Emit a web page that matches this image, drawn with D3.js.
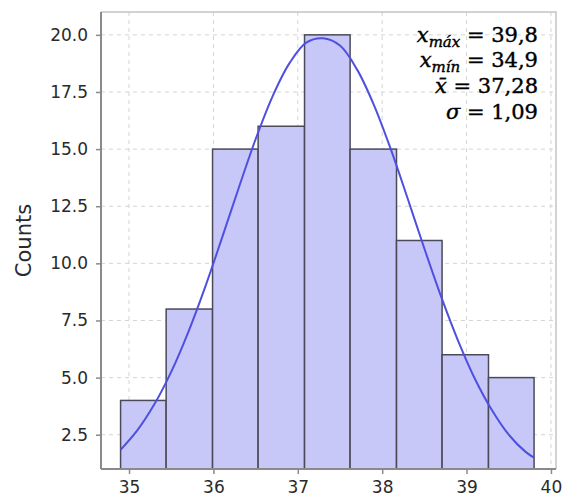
<!DOCTYPE html>
<html>
<head>
<meta charset="utf-8">
<script src="https://cdn.jsdelivr.net/npm/d3@7"></script>
<style>
body{margin:0;background:#fff;}
svg{display:block;}
</style>
</head>
<body>
<svg id="chart" width="562" height="499"></svg>
<script>
var svg = d3.select('#chart');

var binEdges = [34.9, 35.44, 35.99, 36.53, 37.08, 37.62, 38.17, 38.71, 39.26, 39.8];
var counts   = [4, 8, 15, 16, 20, 15, 11, 6, 5];

var curveX = [34.9, 35.1, 35.3, 35.5, 35.7, 35.9, 36.1, 36.3, 36.5, 36.7, 36.9, 37.1, 37.3,
              37.5, 37.7, 37.9, 38.1, 38.3, 38.5, 38.7, 38.9, 39.1, 39.3, 39.5, 39.7, 39.8];
var curveY = [1.84, 2.70, 3.83, 5.25, 6.97, 8.94, 11.09, 13.30, 15.43, 17.30, 18.75, 19.66, 19.85,
              19.53, 18.50, 16.95, 15.02, 12.86, 10.65, 8.53, 6.61, 4.94, 3.58, 2.50, 1.75, 1.50];

var xTicks = [35, 36, 37, 38, 39, 40];
var yTicks = [2.5, 5.0, 7.5, 10.0, 12.5, 15.0, 17.5, 20.0];

var statNames  = ["máx", "mín", "mean", "sigma"];
var statValues = ["39,8", "34,9", "37,28", "1,09"];

var L = 101, R = 556, T = 12, B = 469;
var x = d3.scaleLinear().domain([34.668, 40.06]).range([L, R]);
var y = d3.scaleLinear().domain([1.0, 21.0]).range([B, T]);

// grid
svg.append('g').selectAll('line')
	.data(xTicks)
	.enter()
	.append('line')
	.attr('x1', function(d){return x(d);})
	.attr('x2', function(d){return x(d);})
	.attr('y1', T).attr('y2', B)
	.attr('stroke', '#d4d4d4')
	.attr('stroke-dasharray', '4,4');
svg.append('g').selectAll('line')
	.data(yTicks)
	.enter()
	.append('line')
	.attr('x1', L).attr('x2', R)
	.attr('y1', function(d){return y(d);})
	.attr('y2', function(d){return y(d);})
	.attr('stroke', '#d4d4d4')
	.attr('stroke-dasharray', '4,4');

// frame top/right
svg.append('path')
	.attr('d', 'M' + L + ',' + T + 'H' + R + 'V' + B)
	.attr('fill', 'none')
	.attr('stroke', '#c4c4c4')
	.attr('stroke-width', 1.5);

// bars
svg.append('g').selectAll('rect')
	.data(counts)
	.enter()
	.append('rect')
	.attr('x', function(d, i){return x(binEdges[i]);})
	.attr('width', function(d, i){return x(binEdges[i + 1]) - x(binEdges[i]);})
	.attr('y', function(d){return y(d);})
	.attr('height', function(d){return B - y(d);})
	.attr('fill', '#c8c8f8')
	.attr('stroke', '#4a4a58')
	.attr('stroke-width', 1.5);

// fitted curve
var line = d3.line()
	.x(function(d, i){return x(curveX[i]);})
	.y(function(d){return y(d);})
	.curve(d3.curveCatmullRom);
svg.append('path')
	.datum(curveY)
	.attr('d', line)
	.attr('fill', 'none')
	.attr('stroke', '#4f4fe0')
	.attr('stroke-width', 2);

// axes
var xAxis = svg.append('g')
	.attr('transform', 'translate(0,' + B + ')')
	.call(d3.axisBottom(x).tickValues(xTicks).tickSize(5).tickPadding(7).tickFormat(d3.format('d')));
var yAxis = svg.append('g')
	.attr('transform', 'translate(' + L + ',0)')
	.call(d3.axisLeft(y).tickValues(yTicks).tickSize(5).tickPadding(8).tickFormat(d3.format('.1f')));
[xAxis, yAxis].forEach(function(g){
	g.select('.domain').attr('stroke', '#8a8a8a').attr('stroke-width', 2);
	g.selectAll('.tick line').attr('stroke', '#8a8a8a').attr('stroke-width', 1.5);
	g.selectAll('.tick text')
		.attr('fill', '#2a2a2a')
		.style('font-family', 'DejaVu Sans')
		.style('font-size', '17px');
});
yAxis.select('.domain').attr('d', 'M0,' + T + 'V' + B);
xAxis.select('.domain').attr('d', 'M' + L + ',0H' + R);

svg.append('text')
	.attr('transform', 'translate(31,' + ((T + B) / 2) + ') rotate(-90)')
	.attr('text-anchor', 'middle')
	.attr('fill', '#2a2a2a')
	.style('font-family', 'DejaVu Sans')
	.style('font-size', '21px')
	.text('Counts');

// stats box
var stats = svg.append('g')
	.attr('text-anchor', 'end')
	.style('font-family', 'DejaVu Serif')
	.style('font-size', '21px')
	.attr('fill', '#000')
	.attr('stroke', '#000')
	.attr('stroke-width', 0.4);
var baselines = [42, 67, 93, 119];
statValues.forEach(function(v, i){
	var t = stats.append('text').attr('x', 538).attr('y', baselines[i]);
	if (i < 2) {
		t.append('tspan').style('font-style', 'italic').text('x');
		t.append('tspan').attr('dy', 5).style('font-style', 'italic').style('font-size', '15px').text(statNames[i]);
		t.append('tspan').attr('dy', -5).text(' = ' + v);
	} else if (i == 2) {
		t.append('tspan').style('font-style', 'italic').text('x̄');
		t.append('tspan').text(' = ' + v);
	} else {
		t.append('tspan').style('font-style', 'italic').text('σ');
		t.append('tspan').text(' = ' + v);
	}
});
</script>
</body>
</html>
